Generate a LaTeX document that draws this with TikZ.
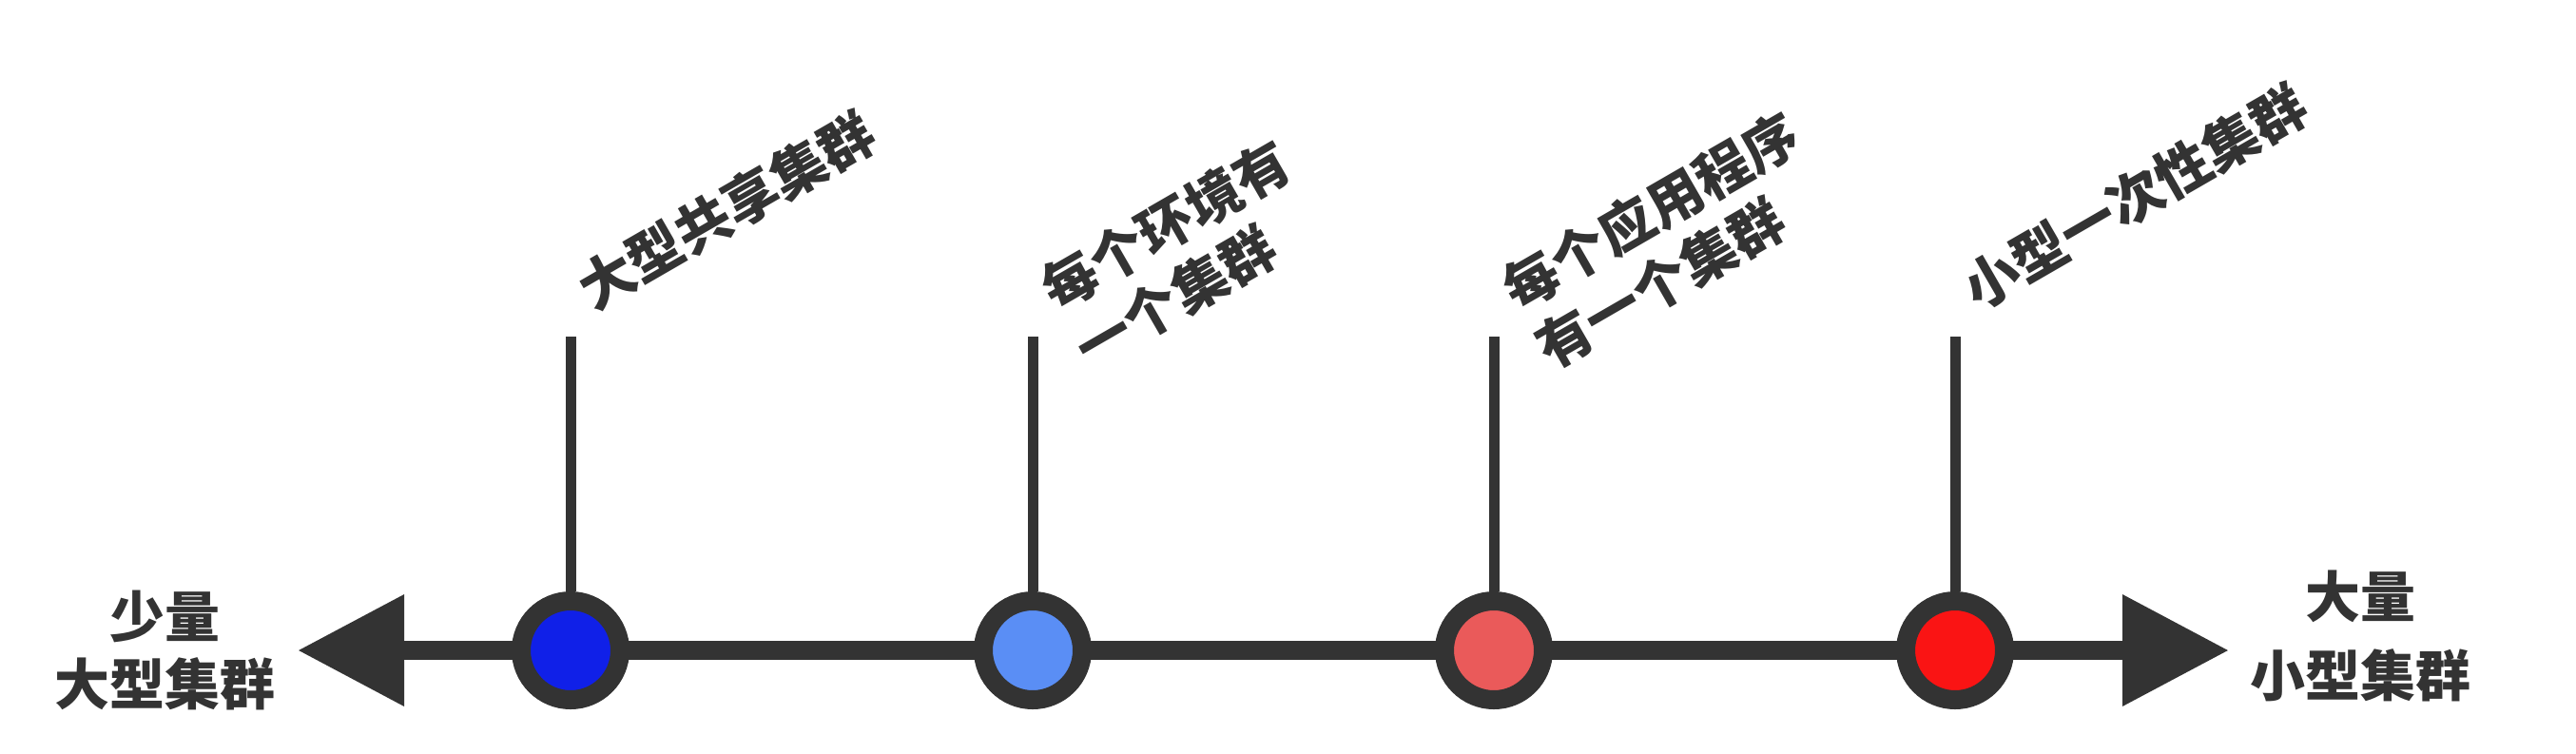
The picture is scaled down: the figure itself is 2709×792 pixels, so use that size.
\documentclass[tikz,border=0pt]{standalone}
\usepackage{fontspec}
\newfontfamily\cjkfont{Noto Sans CJK SC}
\usepackage{tikz}
\usetikzlibrary{
  arrows.meta,%
  positioning%
}
\definecolor{axisgray}{HTML}{333333}
\definecolor{bigblue}{HTML}{1020E8}
\definecolor{lightblue}{HTML}{5A8EF5}
\definecolor{lightred}{HTML}{EA5A5A}
\definecolor{smallred}{HTML}{FA1414}
\tikzset{>={Triangle[length=11.2mm, width=11.2mm]}}
\tikzset{font=\cjkfont\bfseries\fontsize{16.5pt}{20pt}\selectfont}
\tikzset{
  axisline/.style={draw=axisgray, line width=2.05mm},
  stemline/.style={draw=axisgray, line width=1.1mm},
  clusterdot/.style={circle, draw=axisgray, line width=2mm,
    minimum size=10.4mm, inner sep=0pt},
  optionlabel/.style={anchor=base west, rotate=30, align=left,
    inner sep=0pt, text=axisgray},
  endlabel/.style={align=center, inner sep=0pt, text=axisgray}
}

\begin{document}
\begin{tikzpicture}[x=0.1mm, y=0.1mm]
  \useasboundingbox (0,0) rectangle (2709,792);%
  % the axis, few big clusters on the left, many small ones on the right
  \coordinate (tipL) at (313,108);%
  \coordinate (tipR) at (2344,108);%
  \draw[axisline, <->] (tipL) -- (tipR);%
  \node[endlabel, left=2.3mm of tipL] (fewlarge) {少量\\大型集群};%
  \node[endlabel, right=2.2mm of tipR, yshift=1.5mm] (manysmall) {大量\\[1.2mm]小型集群};%
  % the four options
  \node[clusterdot, fill=bigblue] (shared) at (600,108) {};%
  \node[clusterdot, fill=lightblue] (perenv) at (1086,108) {};%
  \node[clusterdot, fill=lightred] (perapp) at (1571,108) {};%
  \node[clusterdot, fill=smallred] (oneoff) at (2056,108) {};%
  \coordinate (sharedtop) at (600,438);%
  \coordinate (perenvtop) at (1086,438);%
  \coordinate (perapptop) at (1571,438);%
  \coordinate (oneofftop) at (2056,438);%
  \draw[stemline] (sharedtop) -- (shared);%
  \draw[stemline] (perenvtop) -- (perenv);%
  \draw[stemline] (perapptop) -- (perapp);%
  \draw[stemline] (oneofftop) -- (oneoff);%
  % base of a two line label is its last line
  \node[optionlabel] (sharedtext) at (624,464) {大型共享集群};%
  \node[optionlabel] (perenvtext) at (1146,402) {每个环境有\\一个集群};%
  \node[optionlabel] (perapptext) at (1631,402) {每个应用程序\\有一个集群};%
  \node[optionlabel] (oneofftext) at (2080,464) {小型一次性集群};%
\end{tikzpicture}
\end{document}
